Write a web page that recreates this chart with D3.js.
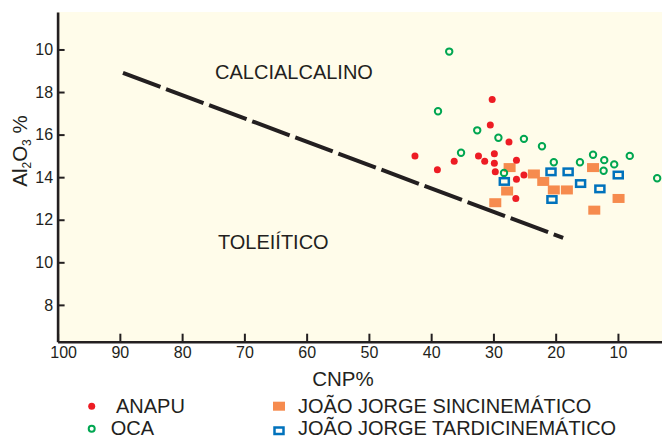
<!DOCTYPE html>
<html>
<head>
<meta charset="utf-8">
<script src="https://cdn.jsdelivr.net/npm/d3@7"></script>
<style>
  body { margin: 0; background: #ffffff; }
  svg { display: block; }
  text { font-family: "Liberation Sans", Arial, Helvetica, sans-serif; fill: #231f20; }
</style>
</head>
<body>
<svg id="chart" width="662" height="439"></svg>
<script>
// Axis ticks
const xTickValues = [100, 90, 80, 70, 60, 50, 40, 30, 20, 10];
const yTickValues = [8, 10, 12, 14, 16, 18, 20];
const yTickLabels = ["8", "10", "12", "14", "16", "18", "10"];

// Samples: [CNP %, Al2O3 %]
const anapu = [
  [30.2, 17.65], [30.5, 16.45], [27.5, 15.65], [42.6, 15.0], [32.4, 15.0],
  [29.85, 15.1], [31.4, 14.75], [36.3, 14.75], [29.85, 14.65], [26.3, 14.8],
  [39.0, 14.35], [29.7, 14.25], [26.3, 13.9], [25.1, 14.1], [26.4, 13.0]
];
const oca = [
  [37.1, 19.9], [38.9, 17.1], [32.6, 16.2], [29.2, 15.85], [25.1, 15.8],
  [22.2, 15.45], [35.2, 15.15], [20.3, 14.7], [16.1, 14.7], [14.0, 15.05],
  [12.2, 14.8], [10.6, 14.6], [8.1, 15.0], [12.3, 14.3], [28.3, 14.2],
  [3.7, 13.95]
];
const jjSincinematico = [
  [27.4, 14.45], [23.5, 14.15], [22.0, 13.8], [27.8, 13.35], [20.3, 13.4],
  [18.2, 13.4], [29.7, 12.8], [14.0, 14.45], [9.9, 13.0], [13.8, 12.45]
];
const jjTardicinematico = [
  [28.25, 13.8], [20.75, 14.25], [18.0, 14.25], [16.0, 13.7], [12.9, 13.45],
  [9.95, 14.1], [20.6, 12.95]
];

// Calc-alkaline / tholeiitic divide
const divideLine = [[89.5, 18.9], [18.8, 11.15]];

// Field and legend labels
const fieldLabels = ["CALCIALCALINO", "TOLEIÍTICO"];
const seriesNames = ["ANAPU", "OCA", "JOÃO JORGE SINCINEMÁTICO", "JOÃO JORGE TARDICINEMÁTICO"];

const ink = "#231f20";
const colors = { red: "#ed1c24", green: "#00a651", orange: "#f68b4e", blue: "#0072bc" };

const svg = d3.select("#chart");
const plot = { left: 57.6, top: 12, bottom: 341.7, right: 662 };

const x = d3.scaleLinear().domain([100, 0]).range([57.6, 680.2]);
const y = d3.scaleLinear().domain([6.27, 21.76]).range([plot.bottom, plot.top]);

// Plot background
svg.append("rect")
  .attr("x", plot.left).attr("y", plot.top)
  .attr("width", plot.right - plot.left).attr("height", plot.bottom - plot.top)
  .attr("fill", "#fffcea");

// Divide line
svg.append("path")
  .datum(divideLine)
  .attr("d", d3.line().x(d => x(d[0])).y(d => y(d[1])))
  .attr("fill", "none")
  .attr("stroke", ink)
  .attr("stroke-width", 4)
  .attr("stroke-dasharray", "40,6");

// Field labels
svg.append("text").attr("x", 294).attr("y", 79.3)
  .attr("text-anchor", "middle").attr("font-size", 20).text(fieldLabels[0]);
svg.append("text").attr("x", 273.3).attr("y", 249)
  .attr("text-anchor", "middle").attr("font-size", 20).text(fieldLabels[1]);

// Axes
const yAxis = svg.append("g")
  .attr("transform", `translate(${plot.left},0)`)
  .call(d3.axisLeft(y).tickValues(yTickValues)
    .tickFormat((d, i) => yTickLabels[i])
    .tickSizeInner(-7).tickSizeOuter(0).tickPadding(4.5));

const xAxis = svg.append("g")
  .attr("transform", `translate(0,${plot.bottom})`)
  .call(d3.axisBottom(x).tickValues(xTickValues)
    .tickSizeInner(-8).tickSizeOuter(0).tickPadding(5));

[yAxis, xAxis].forEach(g => {
  g.attr("font-family", null).attr("font-size", null);
  g.select(".domain").attr("stroke", ink).attr("stroke-width", 2.6);
  g.selectAll(".tick line").attr("stroke", ink).attr("stroke-width", 2);
  g.selectAll(".tick text").attr("fill", ink).attr("font-size", 16);
});
xAxis.selectAll(".tick text").filter(d => d === 100).attr("dx", 5.5);

// Axis titles
svg.append("text").attr("x", 343).attr("y", 386)
  .attr("text-anchor", "middle").attr("font-size", 20.5).text("CNP%");

const yTitle = svg.append("text")
  .attr("transform", "translate(27,151) rotate(-90)")
  .attr("text-anchor", "middle").attr("font-size", 20.5);
yTitle.append("tspan").text("Al");
yTitle.append("tspan").attr("font-size", 12).attr("dy", 4).text("2");
yTitle.append("tspan").attr("dy", -4).text("O");
yTitle.append("tspan").attr("font-size", 12).attr("dy", 4).text("3");
yTitle.append("tspan").attr("dy", -4).text(" %");

// Markers
const marks = svg.append("g");

function squares(data, w, h, fill, stroke, sw) {
  marks.append("g").selectAll("rect").data(data).join("rect")
    .attr("x", d => x(d[0]) - w / 2).attr("y", d => y(d[1]) - h / 2)
    .attr("width", w).attr("height", h)
    .attr("fill", fill).attr("stroke", stroke).attr("stroke-width", sw);
}
function dots(data, r, fill, stroke, sw) {
  marks.append("g").selectAll("circle").data(data).join("circle")
    .attr("cx", d => x(d[0])).attr("cy", d => y(d[1])).attr("r", r)
    .attr("fill", fill).attr("stroke", stroke).attr("stroke-width", sw);
}

squares(jjSincinematico, 12, 9, colors.orange, "none", 0);
squares(jjTardicinematico, 9, 6.5, "none", colors.blue, 2.5);
dots(anapu, 3.5, colors.red, "none", 0);
dots(oca, 3.2, "none", colors.green, 2);

// Legend
const legend = svg.append("g");
legend.append("circle").attr("cx", 91.7).attr("cy", 406.2).attr("r", 3.5).attr("fill", colors.red);
legend.append("text").attr("x", 116).attr("y", 412.8).attr("font-size", 20).text(seriesNames[0]);
legend.append("circle").attr("cx", 91.7).attr("cy", 428.8).attr("r", 3)
  .attr("fill", "none").attr("stroke", colors.green).attr("stroke-width", 2);
legend.append("text").attr("x", 110.7).attr("y", 434.5).attr("font-size", 20).text(seriesNames[1]);
legend.append("rect").attr("x", 273).attr("y", 401.7).attr("width", 12).attr("height", 9)
  .attr("fill", colors.orange);
legend.append("text").attr("x", 298).attr("y", 412.8).attr("font-size", 20).text(seriesNames[2]);
legend.append("rect").attr("x", 274.5).attr("y", 427.5).attr("width", 9).attr("height", 6.5)
  .attr("fill", "none").attr("stroke", colors.blue).attr("stroke-width", 2.5);
legend.append("text").attr("x", 298).attr("y", 434.5).attr("font-size", 20).text(seriesNames[3]);
</script>
</body>
</html>
